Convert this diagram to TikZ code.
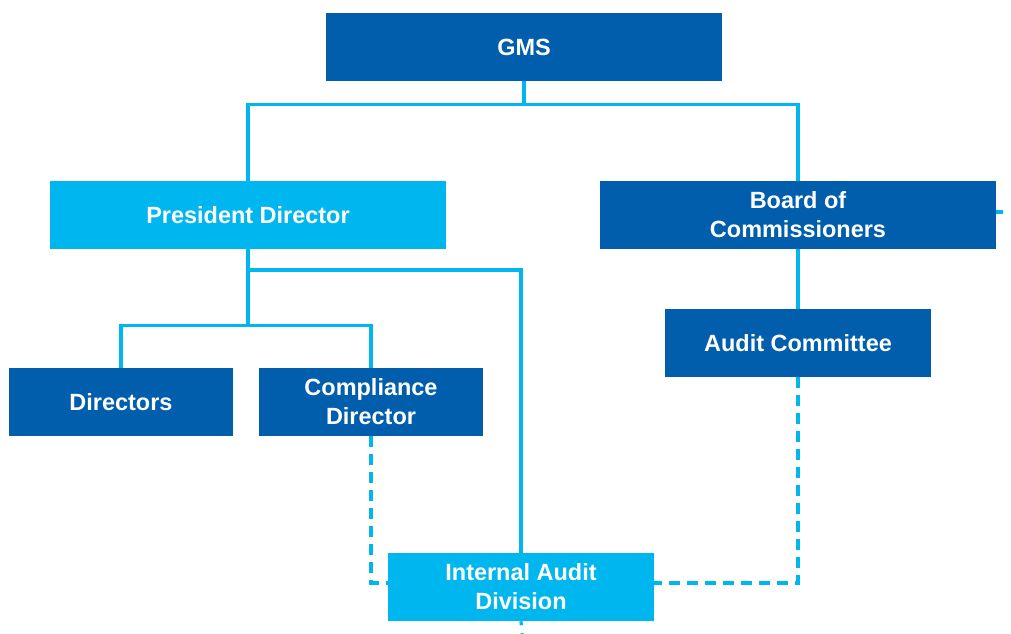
\documentclass[tikz,border=0pt]{standalone}
\usepackage{fontspec}
\setmainfont{Liberation Sans}
\definecolor{dkblue}{HTML}{005EAD}
\definecolor{ltblue}{HTML}{00B6EF}
\begin{document}
\begin{tikzpicture}[x=0.75pt,y=-0.75pt,
  box/.style={draw=none,minimum height=51pt,inner sep=0pt,align=center,text=white,
     font=\fontsize{17.6}{21.8}\selectfont\bfseries},
  dkbox/.style={box,fill=dkblue},
  ltbox/.style={box,fill=ltblue},
  conn/.style={draw=ltblue,line width=2.4pt},
  dconn/.style={conn,dash pattern=on 8pt off 5.5pt}]
\useasboundingbox (0,0) rectangle (1011,634);
\node[dkbox,minimum width=297pt] (gms) at (524,47) {GMS};
\node[ltbox,minimum width=297pt] (pd) at (248,215) {President Director};
\node[dkbox,minimum width=297pt] (boc) at (798,215) {Board of\\Commissioners};
\node[dkbox,minimum width=199.5pt] (ac) at (798,343) {Audit Committee};
\node[dkbox,minimum width=168pt] (dir) at (121,402) {Directors};
\node[dkbox,minimum width=168pt] (cd) at (371,402) {Compliance\\Director};
\node[ltbox,minimum width=199.5pt] (iad) at (521,587) {Internal Audit\\Division};
\coordinate (bocR) at (1003,212);
\coordinate (iadB) at (522,634);
\coordinate (dashY) at (0,583);
\draw[conn] (gms.south) -- ++(0,23) coordinate (g1);
\draw[conn] (pd.north) |- (g1) -| (boc.north);
\draw[conn] (boc.south) -- (ac.north);
\draw[conn] (pd.south) -- ++(0,76) coordinate (p2);
\draw[conn] (dir.north) |- (p2) -| (cd.north);
\draw[conn] (pd.south |- 0,270) -| (iad.north);
\draw[conn] (boc.east |- bocR) -- (bocR);
\draw[dconn] (cd.south) |- (iad.west |- dashY);
\draw[dconn] (ac.south) |- (iad.east |- dashY);
\draw[dconn,dash pattern=on 3pt off 6pt] (iad.south) -- (iadB);
\end{tikzpicture}
\end{document}
